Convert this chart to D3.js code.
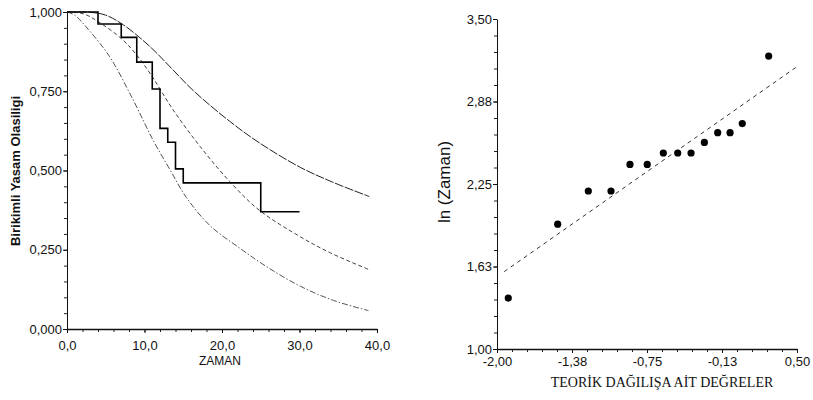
<!DOCTYPE html>
<html><head><meta charset="utf-8">
<script src="https://cdn.jsdelivr.net/npm/d3@7"></script>
<style>body{margin:0;background:#fff} svg{display:block}</style>
</head><body><svg id="c" width="813" height="400"></svg>
<script>
// ---------- data: left panel (survival) ----------
const kmTimes = [0, 4, 7, 9, 11, 12, 13, 14, 15, 25, 30];
const kmSurv  = [1, 0.962, 0.920, 0.842, 0.757, 0.633, 0.589, 0.505, 0.461, 0.370, 0.370];

const upperT = [0, 3, 5, 7.3, 10.7, 13.3, 16.3, 21, 24.9, 30.1, 34.3, 39];
const upperS = [1, 0.999, 0.99, 0.959, 0.891, 0.827, 0.752, 0.655, 0.586, 0.510, 0.463, 0.418];

const midT = [0, 2.15, 4, 7.06, 9, 11, 13.7, 17.2, 21, 24.8, 30.1, 34, 39.1];
const midS = [1, 0.994, 0.97, 0.915, 0.864, 0.796, 0.691, 0.575, 0.465, 0.375, 0.291, 0.24, 0.186];

const lowT = [0, 1, 2.75, 5.5, 8.55, 11.1, 13.3, 15.4, 18.5, 22.3, 25.8, 30.1, 34.4, 38.9];
const lowS = [1, 0.99, 0.945, 0.859, 0.722, 0.596, 0.502, 0.415, 0.325, 0.255, 0.196, 0.135, 0.09, 0.058];

const leftXTicks = [0, 10, 20, 30, 40];
const leftXLabels = ["0,0", "10,0", "20,0", "30,0", "40,0"];
const leftYTicks = [0, 0.25, 0.5, 0.75, 1];
const leftYLabels = ["0,000", "0,250", "0,500", "0,750", "1,000"];

// ---------- data: right panel (probability plot) ----------
const qTheo = [-1.906, -1.494, -1.239, -1.05, -0.892, -0.748, -0.614, -0.494, -0.383, -0.272, -0.161, -0.058, 0.044, 0.264];
const lnTime = [1.386, 1.946, 2.197, 2.197, 2.398, 2.398, 2.485, 2.485, 2.485, 2.565, 2.639, 2.639, 2.708, 3.219];
const fitX = [-1.94, 0.5];
const fitY = [1.586, 3.139];

const rightXTicks = [-2, -1.375, -0.75, -0.125, 0.5];
const rightXLabels = ["-2,00", "-1,38", "-0,75", "-0,13", "0,50"];
const rightYTicks = [1, 1.625, 2.25, 2.875, 3.5];
const rightYLabels = ["1,00", "1,63", "2,25", "2,88", "3,50"];

// ---------- drawing ----------
const svg = d3.select("#c");
const sans = "'Liberation Sans', Arial, sans-serif";

function styleAxis(g, fs) {
  g.selectAll("path.domain").attr("stroke", "#111");
  g.selectAll("line").attr("stroke", "#111");
  g.selectAll("text").attr("font-family", sans).attr("font-size", fs).attr("fill", "#111");
}

// Left panel
const xL = d3.scaleLinear().domain([0, 40]).range([67, 377]);
const yL = d3.scaleLinear().domain([0, 1]).range([329, 12]);

svg.append("g").attr("transform", "translate(0,329)")
  .call(d3.axisBottom(xL).tickValues(d3.range(0, 41, 2)).tickSize(3).tickFormat(""))
  .call(g => { g.select(".domain").remove(); g.selectAll("line").attr("stroke", "#222"); });
svg.append("g").attr("transform", "translate(67,0)")
  .call(d3.axisLeft(yL).tickValues(d3.range(0, 1.0001, 0.05)).tickSize(3).tickFormat(""))
  .call(g => { g.select(".domain").remove(); g.selectAll("line").attr("stroke", "#222"); });

const gxL = svg.append("g").attr("transform", "translate(0,329)")
  .call(d3.axisBottom(xL).tickValues(leftXTicks).tickSize(4).tickSizeOuter(0).tickPadding(8)
        .tickFormat((d, i) => leftXLabels[i]));
styleAxis(gxL, 13);
gxL.select(".domain").attr("stroke-width", 1.6);

const gyL = svg.append("g").attr("transform", "translate(67,0)")
  .call(d3.axisLeft(yL).tickValues(leftYTicks).tickSize(4).tickSizeOuter(0).tickPadding(1)
        .tickFormat((d, i) => leftYLabels[i]));
styleAxis(gyL, 13);

const lineL = (T, S) => d3.line().x((d, i) => xL(T[i])).y((d, i) => yL(S[i]))
  .curve(d3.curveCatmullRom.alpha(0.5))(T);

svg.append("path").attr("d", lineL(upperT, upperS)).attr("fill", "none")
  .attr("stroke", "#222").attr("stroke-width", 1).attr("stroke-dasharray", "9,1.5");
svg.append("path").attr("d", lineL(midT, midS)).attr("fill", "none")
  .attr("stroke", "#444").attr("stroke-width", 1).attr("stroke-dasharray", "4,2.5");
svg.append("path").attr("d", lineL(lowT, lowS)).attr("fill", "none")
  .attr("stroke", "#555").attr("stroke-width", 1).attr("stroke-dasharray", "6,2,1.5,2");

const km = d3.line().x((d, i) => xL(kmTimes[i])).y((d, i) => yL(kmSurv[i])).curve(d3.curveStepAfter);
svg.append("path").attr("d", km(kmTimes)).attr("fill", "none")
  .attr("stroke", "#000").attr("stroke-width", 1.6);

svg.append("text").attr("transform", "translate(19.5,171) rotate(-90)")
  .attr("text-anchor", "middle").attr("font-family", sans).attr("font-weight", "bold")
  .attr("font-size", 13).attr("fill", "#111").text("Birikimli Yasam Olasiligi");
svg.append("text").attr("x", 220).attr("y", 365).attr("text-anchor", "middle")
  .attr("font-family", sans).attr("font-size", 12).attr("fill", "#111").text("ZAMAN");

// Right panel
const xR = d3.scaleLinear().domain([-2, 0.5]).range([497, 797]);
const yR = d3.scaleLinear().domain([1, 3.5]).range([349, 19]);

svg.append("g").attr("transform", "translate(0,349)")
  .call(d3.axisBottom(xR).tickValues(d3.range(0, 21).map(k => -2 + k * 0.125)).tickSize(3).tickFormat(""))
  .call(g => { g.select(".domain").remove(); g.selectAll("line").attr("stroke", "#222"); });
svg.append("g").attr("transform", "translate(497,0)")
  .call(d3.axisLeft(yR).tickValues(d3.range(0, 21).map(k => 1 + k * 0.125)).tickSize(3).tickFormat(""))
  .call(g => { g.select(".domain").remove(); g.selectAll("line").attr("stroke", "#222"); });

const gxR = svg.append("g").attr("transform", "translate(0,349)")
  .call(d3.axisBottom(xR).tickValues(rightXTicks).tickSize(4).tickSizeOuter(0).tickPadding(4)
        .tickFormat((d, i) => rightXLabels[i]));
styleAxis(gxR, 13);
gxR.select(".domain").attr("stroke-width", 1.6);

const gyR = svg.append("g").attr("transform", "translate(497,0)")
  .call(d3.axisLeft(yR).tickValues(rightYTicks).tickSize(4).tickSizeOuter(0).tickPadding(1)
        .tickFormat((d, i) => rightYLabels[i]));
styleAxis(gyR, 13);

svg.append("path")
  .attr("d", d3.line().x((d, i) => xR(fitX[i])).y((d, i) => yR(fitY[i]))(fitX))
  .attr("fill", "none").attr("stroke", "#333").attr("stroke-width", 1).attr("stroke-dasharray", "4,4");

svg.append("g").selectAll("circle").data(qTheo).join("circle")
  .attr("cx", d => xR(d)).attr("cy", (d, i) => yR(lnTime[i])).attr("r", 3.6).attr("fill", "#000");

svg.append("text").attr("transform", "translate(449.5,182) rotate(-90)")
  .attr("text-anchor", "middle").attr("font-family", sans)
  .attr("font-size", 17).attr("fill", "#111").text("ln (Zaman)");
svg.append("text").attr("x", 662).attr("y", 387).attr("text-anchor", "middle")
  .attr("font-family", "'Liberation Serif', 'Times New Roman', serif")
  .attr("font-size", 14).attr("fill", "#111").text("TEORİK DAĞILIŞA AİT DEĞRELER");
</script>
</body></html>
